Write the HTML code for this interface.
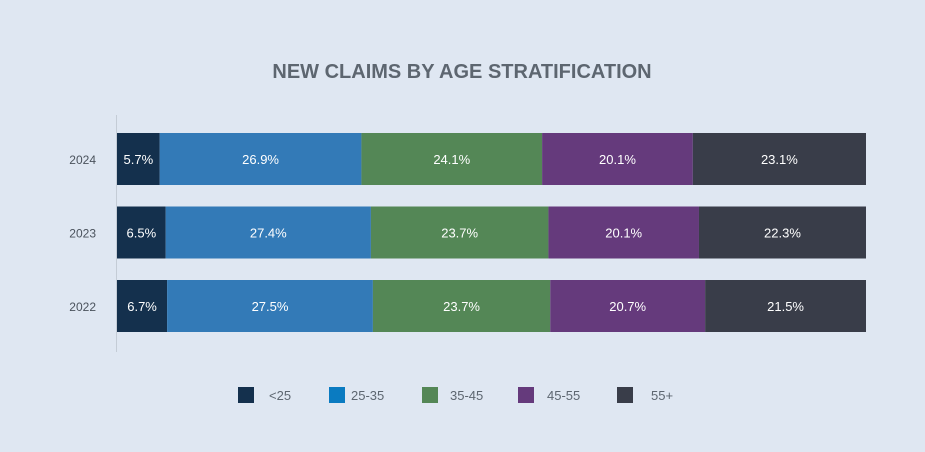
<!DOCTYPE html>
<html><head><meta charset="utf-8"><style>
body{margin:0;background:#dfe7f2;font-family:"Liberation Sans",sans-serif}
</style></head><body>
<svg width="925" height="452" style="display:block">
<rect width="925" height="452" fill="#dfe7f2"/>
<text x="462" y="78" text-anchor="middle" font-size="20" font-weight="bold" fill="#5d6670">NEW CLAIMS BY AGE STRATIFICATION</text>
<line x1="116.5" y1="115" x2="116.5" y2="352" stroke="#c4ccd6"/>
<g id="bars"></g>
<g id="legend"></g>
</svg>
<script>
const years=["2024","2023","2022"];
const groups=["<25","25-35","35-45","45-55","55+"];
const s0=[5.7,6.5,6.7];
const s1=[26.9,27.4,27.5];
const s2=[24.1,23.7,23.7];
const s3=[20.1,20.1,20.7];
const s4=[23.1,22.3,21.5];
const series=[s0,s1,s2,s3,s4];
const colors=["#14304d","#337ab7","#548756","#653a7c","#393d49"];
const legendColors=["#14304d","#0a7bc1","#548756","#653a7c","#393d49"];
const NS="http://www.w3.org/2000/svg";
const x0=117,x1=866,yTop=133,step=73.5,bh=52;
const bars=document.getElementById('bars');
function mk(t,a,p){const e=document.createElementNS(NS,t);for(const k in a)e.setAttribute(k,a[k]);p.appendChild(e);return e;}
years.forEach((yr,i)=>{
  let tot=0;series.forEach(s=>tot+=s[i]);
  const y=yTop+i*step;
  const lab=mk('text',{x:96,y:y+bh/2+5,'text-anchor':'end','font-size':12,fill:'#4a525c'},bars);
  lab.textContent=yr;
  
  
  let cx=x0;
  series.forEach((s,j)=>{
    const w=s[i]/tot*(x1-x0);
    const r=mk('rect',{x:cx,y:y,width:w,height:bh,fill:colors[j]},bars);
    
    
    const t=mk('text',{x:cx+w/2,y:y+bh/2+5,'text-anchor':'middle','font-size':13,fill:'#ffffff'},bars);
    t.textContent=s[i].toFixed(1)+'%';
    
    
    cx+=w;
  });
});
const lg=document.getElementById('legend');
const lx=[238,329,422,518,617],tx=[269,351,450,547,651];
groups.forEach((g,j)=>{
  const r=mk('rect',{x:lx[j],y:387,width:16,height:16,fill:legendColors[j]},lg);
  
  
  const t=mk('text',{x:tx[j],y:400,'font-size':13,fill:'#5d6670'},lg);
  t.textContent=g;
  
  
});
</script>
</body></html>
